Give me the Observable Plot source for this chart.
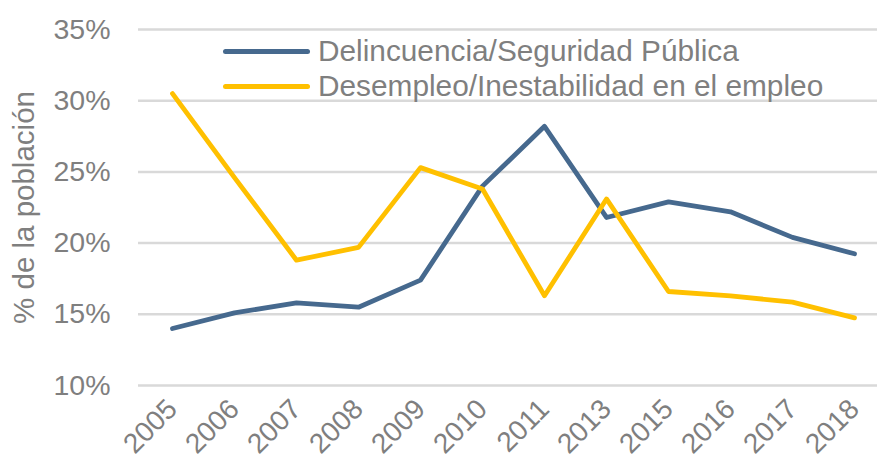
<!DOCTYPE html>
<html>
<head>
<meta charset="utf-8">
<script src="https://cdn.jsdelivr.net/npm/d3@7"></script>
<script src="https://cdn.jsdelivr.net/npm/@observablehq/plot@0.6"></script>
<style>
  body { margin: 0; background: #fff; }
  #wrap { position: relative; width: 877px; height: 467px; font-family: "Liberation Sans", Arial, sans-serif; }
  .leg { position: absolute; left: 223px; display: flex; align-items: center; font-size: 29.8px; color: #7f7f7f; white-space: nowrap; }
  .leg .sw { width: 87px; height: 5px; border-radius: 3px; margin-right: 8px; }
</style>
</head>
<body>
<div id="wrap"></div>
<script>
const years = ["2005","2006","2007","2008","2009","2010","2011","2013","2015","2016","2017","2018"];
const delincuencia = [14.0, 15.1, 15.8, 15.5, 17.4, 24.0, 28.2, 21.8, 22.9, 22.2, 20.4, 19.25];
const desempleo = [30.5, 24.6, 18.8, 19.7, 25.3, 23.8, 16.3, 23.1, 16.6, 16.3, 15.85, 14.75];
const seriesNames = ["Delincuencia/Seguridad Pública", "Desempleo/Inestabilidad en el empleo"];
const seriesColors = ["#46698e", "#ffc000"];
const yTicks = [10, 15, 20, 25, 30, 35];
const yLabel = "% de la población";

const rows = [];
years.forEach((yr, i) => {
  rows.push({year: yr, value: delincuencia[i], series: seriesNames[0]});
  rows.push({year: yr, value: desempleo[i], series: seriesNames[1]});
});

const chart = Plot.plot({
  width: 877,
  height: 467,
  marginLeft: 138,
  marginRight: 0,
  marginTop: 29,
  marginBottom: 82,
  style: {fontFamily: "Liberation Sans, Arial, sans-serif", fontSize: "28.5px", color: "#7f7f7f", background: "#fff"},
  x: {type: "point", domain: years, padding: 0, insetLeft: 31, insetRight: 20},
  y: {domain: [10, 35]},
  color: {domain: seriesNames, range: seriesColors},
  marks: [
    Plot.gridY(yTicks, {stroke: "#d9d9d9", strokeOpacity: 1, strokeWidth: 2.5}),
    Plot.axisY(yTicks, {tickSize: 0, tickPadding: 28, tickFormat: d => d + "%", label: null, fontSize: 28.5}),
    Plot.axisY({label: yLabel, labelAnchor: "center", labelArrow: "none", labelOffset: 125, tickSize: 0, tickFormat: () => "", fontSize: 29.5}),
    Plot.axisX({tickSize: 0, tickRotate: -45, tickPadding: 19, label: null, fontSize: 28}),
    Plot.lineY(rows, {x: "year", y: "value", z: "series", stroke: "series", strokeWidth: 4.8, strokeLinecap: "round", strokeLinejoin: "round"})
  ]
});
const wrap = document.getElementById("wrap");
wrap.appendChild(chart);

const legTops = [51, 86];
seriesNames.forEach((name, i) => {
  const d = document.createElement("div");
  d.className = "leg";
  d.style.top = (legTops[i] - 17) + "px";
  d.style.height = "34px";
  const sw = document.createElement("div");
  sw.className = "sw";
  sw.style.background = seriesColors[i];
  const t = document.createElement("span");
  t.textContent = name;
  d.appendChild(sw);
  d.appendChild(t);
  wrap.appendChild(d);
});
</script>
</body>
</html>
